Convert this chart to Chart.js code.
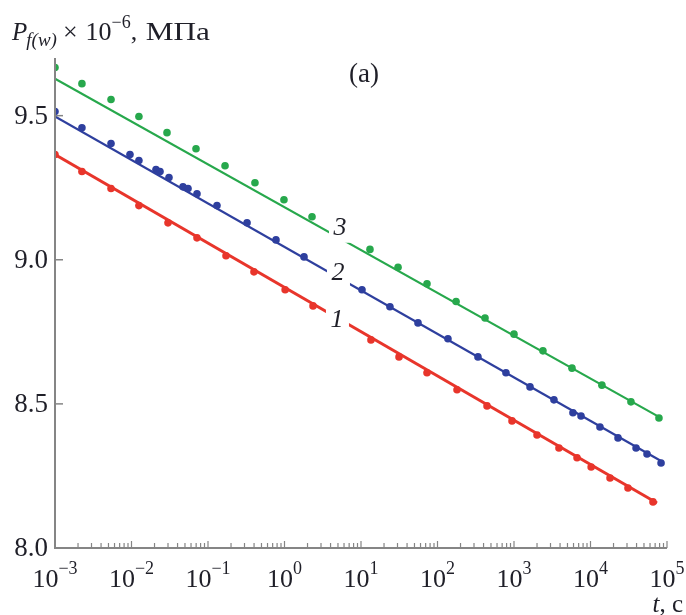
<!DOCTYPE html>
<html>
<head>
<meta charset="utf-8">
<title>Pf(w) vs t</title>
<script src="https://cdn.jsdelivr.net/npm/chart.js@4.4.1/dist/chart.umd.min.js"></script>
<style>
  html, body { margin: 0; padding: 0; background: #ffffff; }
  #wrap { width: 686px; height: 615px; position: relative; }
</style>
</head>
<body>
<div id="wrap"><canvas id="chart" width="686" height="615"></canvas></div>
<script>
// Measured points, t in seconds, P in units of 10^6 MPa
const greenT = [0.001, 0.00225, 0.0054, 0.0125, 0.0291, 0.0697, 0.167, 0.411, 0.984, 2.29,
                13.1, 30.5, 72.9, 175, 418, 1000, 2390, 5730, 14100, 33800, 78500];
const greenP = [9.667, 9.611, 9.556, 9.497, 9.441, 9.385, 9.326, 9.267, 9.208, 9.149,
                9.036, 8.974, 8.917, 8.855, 8.798, 8.742, 8.684, 8.624, 8.565, 8.507, 8.451];

const blueT = [0.001, 0.00225, 0.0054, 0.00955, 0.0125, 0.0209, 0.0236, 0.0309, 0.0471, 0.0548,
               0.0718, 0.131, 0.324, 0.774, 1.80, 10.3, 23.9, 55.6, 137, 338,
               785, 1620, 3330, 5900, 7520, 13300, 22900, 39400, 54800, 83600];
const blueP = [9.514, 9.458, 9.403, 9.365, 9.344, 9.313, 9.306, 9.285, 9.253, 9.247,
               9.229, 9.188, 9.128, 9.069, 9.010, 8.896, 8.837, 8.781, 8.726, 8.663,
               8.608, 8.559, 8.514, 8.469, 8.458, 8.420, 8.382, 8.347, 8.326, 8.295];

const redT = [0.001, 0.00225, 0.0054, 0.0125, 0.0300, 0.0718, 0.172, 0.399, 1.02, 2.36,
              13.5, 31.4, 72.9, 180, 444, 942, 2000, 3870, 6670, 10200, 18000, 30900, 65600];
const redP = [9.365, 9.306, 9.247, 9.188, 9.128, 9.076, 9.014, 8.958, 8.896, 8.840,
              8.722, 8.663, 8.608, 8.549, 8.493, 8.441, 8.392, 8.347, 8.313, 8.281, 8.243, 8.208, 8.160];

// Fitted straight lines (in log t): end points
const greenFitT = [0.001, 78500];
const greenFitP = [9.628, 8.455];
const blueFitT  = [0.001, 83600];
const blueFitP  = [9.497, 8.302];
const redFitT   = [0.001, 74000];
const redFitP   = [9.365, 8.156];

// Curve numbers placed on the lines
const curveNames  = ['1', '2', '3'];
const curveNameT  = [4.85, 5.0, 5.31];
const curveNameP  = [8.792, 8.955, 9.111];

// Axis ticks
const yTickValues   = [8.0, 8.5, 9.0, 9.5];
const xTickExponents = [-3, -2, -1, 0, 1, 2, 3, 4, 5];

const GREEN = '#27a84c';
const BLUE  = '#2e3f9e';
const RED   = '#e8352b';
const AXIS  = '#858585';
const TEXT  = '#1f1f28';
const SERIF = '"Liberation Serif", "DejaVu Serif", serif';

const pts = (ts, ps) => ts.map((t, i) => ({ x: t, y: ps[i] }));

const axesPlugin = {
  id: 'axesPlugin',
  afterDatasetsDraw(chart) {
    const { ctx, scales: { x, y } } = chart;
    ctx.save();
    // white gaps in the lines behind the curve numbers, then the numbers
    ctx.font = 'italic 26px ' + SERIF;
    ctx.textAlign = 'center';
    ctx.textBaseline = 'middle';
    curveNames.forEach((name, i) => {
      const px = x.getPixelForValue(curveNameT[i]);
      const py = y.getPixelForValue(curveNameP[i]);
      ctx.fillStyle = '#ffffff';
      ctx.fillRect(px - 11, py - 15, 23, 30);
      ctx.fillStyle = TEXT;
      ctx.fillText(name, px, py);
    });
    ctx.restore();
  },
  afterDraw(chart) {
    const { ctx, chartArea: ca, scales: { x, y } } = chart;
    ctx.save();
    // axis lines
    ctx.strokeStyle = AXIS;
    ctx.lineWidth = 2;
    ctx.beginPath();
    ctx.moveTo(ca.left, ca.top);
    ctx.lineTo(ca.left, ca.bottom);
    ctx.lineTo(ca.right, ca.bottom);
    ctx.stroke();

    // y ticks (inward) and labels
    ctx.lineWidth = 1.5;
    ctx.fillStyle = TEXT;
    ctx.font = '27px ' + SERIF;
    ctx.textAlign = 'right';
    ctx.textBaseline = 'middle';
    yTickValues.forEach(v => {
      const py = y.getPixelForValue(v);
      if (v > y.min) {
        ctx.beginPath();
        ctx.moveTo(ca.left, py);
        ctx.lineTo(ca.left + 8, py);
        ctx.stroke();
      }
      ctx.fillText(v.toFixed(1), ca.left - 7, py + 1);
    });

    // x ticks (inward): decades and 2..9 minors
    ctx.lineWidth = 1.2;
    for (let k = 0; k < xTickExponents.length; k++) {
      const e = xTickExponents[k];
      const px = x.getPixelForValue(Math.pow(10, e));
      ctx.beginPath();
      ctx.moveTo(px, ca.bottom);
      ctx.lineTo(px, ca.bottom - 7);
      ctx.stroke();
      if (k < xTickExponents.length - 1) {
        for (let m = 2; m <= 9; m++) {
          const mx = x.getPixelForValue(m * Math.pow(10, e));
          ctx.beginPath();
          ctx.moveTo(mx, ca.bottom);
          ctx.lineTo(mx, ca.bottom - 5);
          ctx.stroke();
        }
      }
    }

    // x tick labels: 10 with superscript exponent
    ctx.textAlign = 'left';
    ctx.textBaseline = 'alphabetic';
    xTickExponents.forEach(e => {
      const px = x.getPixelForValue(Math.pow(10, e));
      const base = '10';
      const sup = e < 0 ? '\u2212' + Math.abs(e) : String(e);
      ctx.font = '26px ' + SERIF;
      const wb = ctx.measureText(base).width;
      ctx.font = '18px ' + SERIF;
      const ws = ctx.measureText(sup).width;
      let left = px - (wb + ws) / 2;
      if (left + wb + ws > 685) left = 685 - wb - ws;
      ctx.font = '26px ' + SERIF;
      ctx.fillText(base, left, 587);
      ctx.font = '18px ' + SERIF;
      ctx.fillText(sup, left + wb, 574);
    });

    // x axis name "t, c"
    ctx.textAlign = 'left';
    ctx.font = 'italic 25px ' + SERIF;
    const wt = ctx.measureText('t').width;
    ctx.font = '25px ' + SERIF;
    const wc = ctx.measureText(', c').width;
    const tx = 683 - wt - wc;
    ctx.font = 'italic 25px ' + SERIF;
    ctx.fillText('t', tx, 612);
    ctx.font = '25px ' + SERIF;
    ctx.fillText(', c', tx + wt, 612);

    // y axis name: P_f(w) × 10^−6, МПа
    let cx = 12;
    const bl = 40;
    ctx.font = 'italic 25px ' + SERIF;
    ctx.fillText('P', cx, bl); cx += ctx.measureText('P').width - 1;
    ctx.font = 'italic 19px ' + SERIF;
    ctx.fillText('f(w)', cx, bl + 6); cx += ctx.measureText('f(w)').width + 6;
    ctx.font = '26px ' + SERIF;
    ctx.fillText('\u00d7', cx, bl); cx += ctx.measureText('\u00d7').width + 8;
    ctx.fillText('10', cx, bl); cx += ctx.measureText('10').width;
    ctx.font = '18px ' + SERIF;
    ctx.fillText('\u22126', cx, bl - 12); cx += ctx.measureText('\u22126').width;
    ctx.font = '26px ' + SERIF;
    ctx.fillText(',', cx, bl); cx += ctx.measureText(', ').width + 2;
    // the unit is set a little wider than the rest of the line
    ctx.save();
    ctx.translate(cx, bl);
    ctx.scale(1.2, 1);
    ctx.fillText('\u041c\u041f\u0430', 0, 0);
    ctx.restore();

    // panel letter
    ctx.textAlign = 'center';
    ctx.font = '27px ' + SERIF;
    ctx.fillText('(a)', 364, 82);
    ctx.restore();
  }
};

new Chart(document.getElementById('chart'), {
  type: 'scatter',
  data: {
    datasets: [
      { data: pts(greenFitT, greenFitP), showLine: true, borderColor: GREEN, borderWidth: 2.2, pointRadius: 0, order: 3 },
      { data: pts(blueFitT, blueFitP),   showLine: true, borderColor: BLUE,  borderWidth: 2.2, pointRadius: 0, order: 3 },
      { data: pts(redFitT, redFitP),     showLine: true, borderColor: RED,   borderWidth: 3,   pointRadius: 0, order: 3 },
      { data: pts(greenT, greenP), pointRadius: 3.8, pointBackgroundColor: GREEN, pointBorderWidth: 0, order: 1 },
      { data: pts(blueT, blueP),   pointRadius: 3.8, pointBackgroundColor: BLUE,  pointBorderWidth: 0, order: 1 },
      { data: pts(redT, redP),     pointRadius: 3.8, pointBackgroundColor: RED,   pointBorderWidth: 0, order: 1 }
    ]
  },
  options: {
    responsive: false,
    animation: false,
    layout: { padding: { left: 0, top: 58, right: 19, bottom: 0 } },
    plugins: { legend: { display: false }, tooltip: { enabled: false } },
    scales: {
      x: {
        type: 'logarithmic', min: 1e-3, max: 1e5,
        ticks: { display: false }, grid: { display: false }, border: { display: false },
        afterFit(s) { s.height = 67; }
      },
      y: {
        type: 'linear', min: 8.0, max: 9.7,
        ticks: { display: false }, grid: { display: false }, border: { display: false },
        afterFit(s) { s.width = 55; }
      }
    }
  },
  plugins: [axesPlugin]
});
</script>
</body>
</html>
